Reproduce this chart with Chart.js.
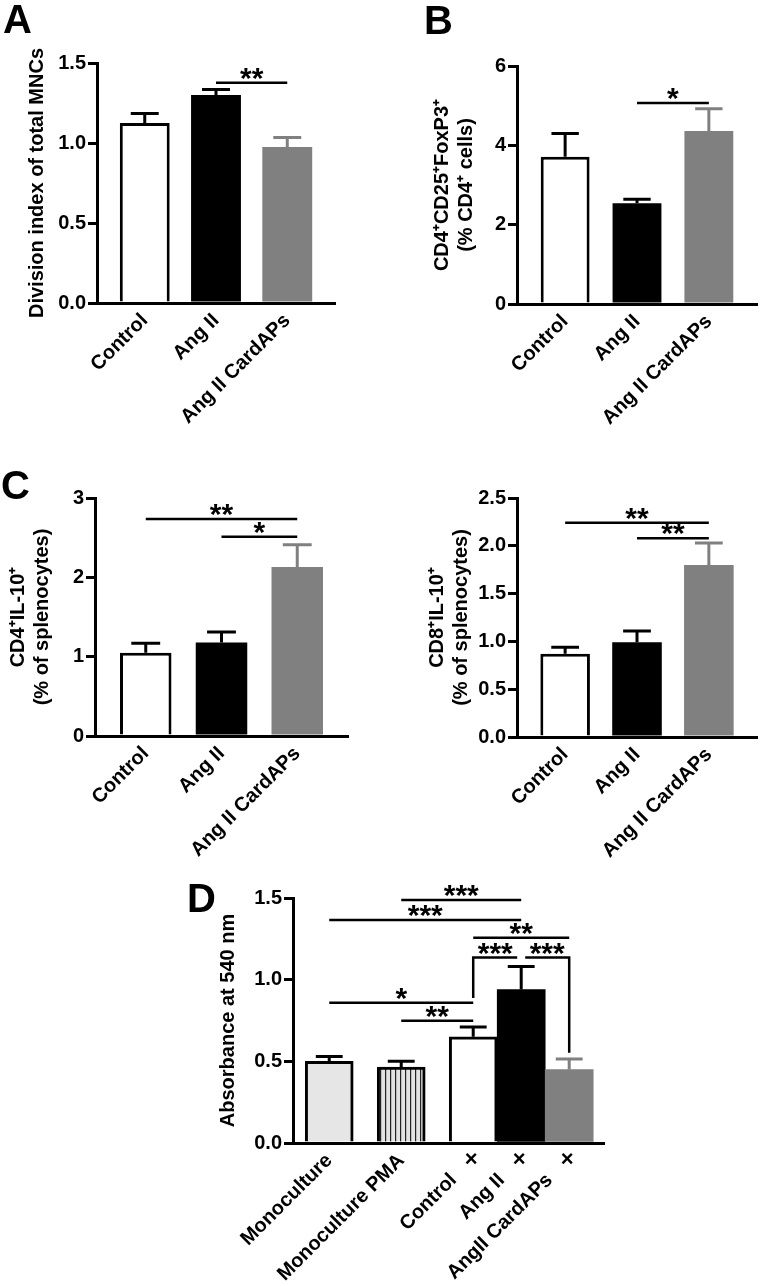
<!DOCTYPE html>
<html>
<head>
<meta charset="utf-8">
<script src="https://cdn.jsdelivr.net/npm/chart.js@4.4.0/dist/chart.umd.min.js"></script>
<style>
  body { margin: 0; background: #fff; }
  #page { position: relative; width: 760px; height: 1286px; overflow: hidden; font-family: 'Liberation Sans', Arial, sans-serif; }
  .panel { position: absolute; }
  .letter { position: absolute; font-weight: bold; font-size: 40px; line-height: 40px; color: #000; }
</style>
</head>
<body>
<div id="page">
  <div class="panel" style="left:0;top:0;width:380px;height:440px"><canvas id="chartA"></canvas></div>
  <div class="panel" style="left:380px;top:0;width:380px;height:440px"><canvas id="chartB"></canvas></div>
  <div class="panel" style="left:0;top:420px;width:380px;height:440px"><canvas id="chartC1"></canvas></div>
  <div class="panel" style="left:380px;top:420px;width:380px;height:440px"><canvas id="chartC2"></canvas></div>
  <div class="panel" style="left:160px;top:840px;width:460px;height:446px"><canvas id="chartD"></canvas></div>
  <div class="letter" style="left:3px;top:-1px">A</div>
  <div class="letter" style="left:424px;top:0px">B</div>
  <div class="letter" style="left:1px;top:465px">C</div>
  <div class="letter" style="left:187px;top:878px">D</div>
</div>
<script>
// groups and values (mean, upper SEM)
const groups = ['Control', 'Ang II', 'Ang II CardAPs'];
const divisionIndex = [1.125, 1.30, 0.975];
const divisionIndexSem = [0.06, 0.035, 0.06];
const tregPct = [3.71, 2.54, 4.36];
const tregSem = [0.59, 0.10, 0.56];
const cd4Il10 = [1.05, 1.18, 2.13];
const cd4Il10Sem = [0.12, 0.13, 0.28];
const cd8Il10 = [0.87, 0.99, 1.80];
const cd8Il10Sem = [0.07, 0.12, 0.23];

const groupsD = ['Monoculture', 'Monoculture PMA', 'Control', 'Ang II', 'AngII CardAPs'];
const coculture = [false, false, true, true, true];
const absorbance = [0.50, 0.465, 0.65, 0.94, 0.45];
const absorbanceSem = [0.03, 0.035, 0.06, 0.14, 0.065];

// y tick values
const ticksA = [0, 0.5, 1.0, 1.5];
const ticksB = [0, 2, 4, 6];
const ticksC1 = [0, 1, 2, 3];
const ticksC2 = [0, 0.5, 1.0, 1.5, 2.0, 2.5];
const ticksD = [0, 0.5, 1.0, 1.5];

// significance: [from, to, level, stars, leg down at from, leg down at to]
const sigA = [[1, 2, 1.377, '**']];
const sigB = [[1, 2, 5.07, '*']];
const sigC1 = [[0, 2, 2.735, '**'], [1, 2, 2.51, '*']];
const sigC2 = [[0, 2, 2.24, '**'], [1, 2, 2.08, '**']];
const sigD = [
  [1, 3, 1.488, '***'],
  [0, 3, 1.365, '***'],
  [2, 4, 1.257, '**'],
  [2, 3, 1.135, '***', 0.888, null],
  [3, 4, 1.135, '***', null, 0.553],
  [0, 2, 0.859, '*'],
  [1, 2, 0.749, '**']
];

const FONT = "'Liberation Sans', Arial, sans-serif";
Chart.defaults.font.family = FONT;
Chart.defaults.color = '#000';

function stripes() {
  const c = document.createElement('canvas');
  c.width = 5; c.height = 4;
  const g = c.getContext('2d');
  g.fillStyle = '#e2e2e2';
  g.fillRect(0, 0, 5, 4);
  g.fillStyle = '#222';
  g.fillRect(0, 0, 1.2, 4);
  return g.createPattern(c, 'repeat');
}

// error bars, significance brackets and co-culture marks
const barExtras = {
  id: 'barExtras',
  afterDatasetsDraw(chart, args, opts) {
    const ctx = chart.ctx;
    const y = chart.scales.y;
    const bars = chart.getDatasetMeta(0).data;
    ctx.save();
    bars.forEach((bar, i) => {
      const top = y.getPixelForValue(opts.values[i] + opts.sem[i]);
      const half = bar.width * 0.28;
      ctx.strokeStyle = opts.errColors[i];
      ctx.lineWidth = 3;
      ctx.beginPath();
      ctx.moveTo(bar.x, bar.y);
      ctx.lineTo(bar.x, top);
      ctx.moveTo(bar.x - half, top);
      ctx.lineTo(bar.x + half, top);
      ctx.stroke();
    });

    ctx.strokeStyle = '#000';
    ctx.fillStyle = '#000';
    ctx.lineWidth = 2.5;
    ctx.textAlign = 'center';
    ctx.textBaseline = 'alphabetic';
    ctx.font = 'bold 30px ' + FONT;
    opts.sig.forEach(s => {
      const [from, to, level, stars, legFrom, legTo] = s;
      let x1 = bars[from].x, x2 = bars[to].x;
      const ly = y.getPixelForValue(level);
      // brackets meeting on the same level leave a small gap
      opts.sig.forEach(o => {
        if (o !== s && o[2] === level) {
          if (o[1] === from) x1 += 4;
          if (o[0] === to) x2 -= 4;
        }
      });
      ctx.beginPath();
      if (legFrom != null) {
        ctx.moveTo(x1, y.getPixelForValue(legFrom));
        ctx.lineTo(x1, ly);
      } else {
        ctx.moveTo(x1, ly);
      }
      ctx.lineTo(x2, ly);
      if (legTo != null) ctx.lineTo(x2, y.getPixelForValue(legTo));
      ctx.stroke();
      // stars sit a few pixels above the line
      const m = ctx.measureText(stars);
      ctx.fillText(stars, (x1 + x2) / 2, ly - 3 - m.actualBoundingBoxDescent);
    });

    if (opts.marks) {
      ctx.font = 'bold 22px ' + FONT;
      ctx.textBaseline = 'middle';
      opts.marks.forEach((m, i) => {
        if (m) ctx.fillText('\u00d7', bars[i].x - 2, chart.chartArea.bottom + 17);
      });
    }
    ctx.restore();
  }
};

function makeChart(id, o) {
  return new Chart(document.getElementById(id), {
    type: 'bar',
    data: {
      datasets: [{
        data: o.values.map((v, i) => ({ x: o.slots[i], y: v })),
        backgroundColor: o.fills,
        borderColor: '#000',
        borderWidth: o.borders,
        borderSkipped: 'start',
        barPercentage: o.barPct,
        categoryPercentage: 1
      }]
    },
    plugins: [barExtras],
    options: {
      responsive: true,
      maintainAspectRatio: false,
      animation: false,
      layout: { padding: o.padding },
      plugins: {
        legend: { display: false },
        tooltip: { enabled: false },
        barExtras: { values: o.values, sem: o.sem, errColors: o.errColors, sig: o.sig, marks: o.marks }
      },
      scales: {
        x: {
          type: 'linear',
          min: o.xRange[0],
          max: o.xRange[1],
          bounds: 'data',
          offset: false,
          z: 1,
          afterBuildTicks: s => { s.ticks = o.slots.map(v => ({ value: v })); },
          afterFit: s => { s.height = o.xHeight; s.paddingLeft = 0; s.paddingRight = 0; },
          ticks: {
            autoSkip: false,
            minRotation: 45,
            maxRotation: 45,
            padding: 6,
            color: '#000',
            font: { size: 20, weight: 'bold' },
            callback: (v, i) => o.labels[i]
          },
          grid: { display: false, drawTicks: false },
          border: { display: true, color: '#000', width: 3 }
        },
        y: {
          min: 0,
          max: o.yTicks[o.yTicks.length - 1],
          z: 1,
          afterBuildTicks: s => { s.ticks = o.yTicks.map(v => ({ value: v })); },
          afterFit: s => { s.width = o.yWidth; s.paddingTop = 0; s.paddingBottom = 0; },
          ticks: {
            padding: 2,
            color: '#000',
            font: { size: 20, weight: 'bold' },
            callback: v => v.toFixed(o.decimals)
          },
          grid: { drawOnChartArea: false, drawTicks: true, tickLength: 9, lineWidth: 3, tickWidth: 3, color: '#000', tickColor: '#000' },
          border: { display: true, color: '#000', width: 3 },
          title: {
            display: true,
            text: o.yTitle,
            color: '#000',
            font: { size: 20, weight: 'bold' },
            padding: { top: o.titlePad, bottom: 0 }
          }
        }
      }
    }
  });
}

const fills3 = ['#ffffff', '#000000', '#808080'];
const errColors3 = ['#000', '#000', '#808080'];
const slots3 = [0, 1, 2];

makeChart('chartA', {
  values: divisionIndex, sem: divisionIndexSem, labels: groups, slots: slots3,
  fills: fills3, borders: [3, 0, 0], errColors: errColors3, barPct: 0.7,
  xRange: [-0.67, 2.67], yTicks: ticksA, decimals: 1, sig: sigA,
  yTitle: 'Division index of total MNCs', titlePad: 25,
  padding: { left: 0, top: 63, right: 45, bottom: 0 }, yWidth: 97, xHeight: 137
});

makeChart('chartB', {
  values: tregPct, sem: tregSem, labels: groups, slots: slots3,
  fills: fills3, borders: [3, 0, 0], errColors: errColors3, barPct: 0.68,
  xRange: [-0.67, 2.67], yTicks: ticksB, decimals: 0, sig: sigB,
  yTitle: ['CD4\u207aCD25\u207aFoxP3\u207a', '(% CD4\u207a cells)'], titlePad: 50,
  padding: { left: 0, top: 66, right: 3, bottom: 0 }, yWidth: 137, xHeight: 136
});

makeChart('chartC1', {
  values: cd4Il10, sem: cd4Il10Sem, labels: groups, slots: slots3,
  fills: fills3, borders: [3, 0, 0], errColors: errColors3, barPct: 0.68,
  xRange: [-0.67, 2.67], yTicks: ticksC1, decimals: 0, sig: sigC1,
  yTitle: ['CD4\u207aIL-10\u207a', '(% of splenocytes)'], titlePad: 6,
  padding: { left: 0, top: 78, right: 32, bottom: 0 }, yWidth: 95, xHeight: 124
});

makeChart('chartC2', {
  values: cd8Il10, sem: cd8Il10Sem, labels: groups, slots: slots3,
  fills: fills3, borders: [3, 0, 0], errColors: errColors3, barPct: 0.69,
  xRange: [-0.67, 2.67], yTicks: ticksC2, decimals: 1, sig: sigC2,
  yTitle: ['CD8\u207aIL-10\u207a', '(% of splenocytes)'], titlePad: 45,
  padding: { left: 0, top: 78, right: 3, bottom: 0 }, yWidth: 137, xHeight: 123
});

// co-culture labels are pushed along the slant to leave room for the x row
const labelsD = groupsD.map((g, i) => coculture[i] ? g + '     ' : g);

makeChart('chartD', {
  values: absorbance, sem: absorbanceSem, labels: labelsD, slots: [0, 3, 6, 8, 10],
  fills: ['#e6e6e6', stripes(), '#ffffff', '#000000', '#808080'], borders: [3, 3, 3, 0, 0],
  errColors: ['#000', '#000', '#000', '#000', '#808080'], barPct: 1,
  xRange: [-1.51, 11.45], yTicks: ticksD, decimals: 1, sig: sigD, marks: coculture,
  yTitle: 'Absorbance at 540 nm', titlePad: 56,
  padding: { left: 0, top: 58, right: 16, bottom: 0 }, yWidth: 133, xHeight: 143
});
</script>
</body>
</html>
